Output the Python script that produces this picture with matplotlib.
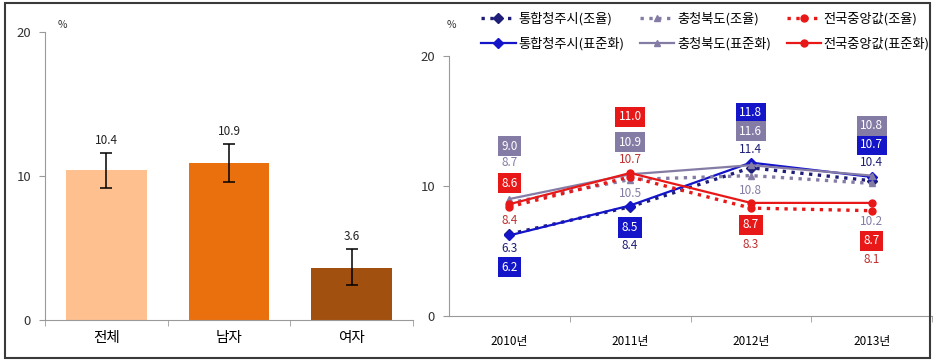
import matplotlib
matplotlib.use('Agg')
import matplotlib.pyplot as plt
from matplotlib.patches import Rectangle

plt.rcParams['font.family'] = ['Noto Sans CJK KR', 'DejaVu Sans']

# left panel data
groups = ['전체', '남자', '여자']
rates = [10.4, 10.9, 3.6]
err_low = [9.2, 9.6, 2.4]
err_high = [11.6, 12.2, 4.9]
bar_colors = ['#FEC08E', '#EA700E', '#A2500F']

# right panel data
years = ['2010년', '2011년', '2012년', '2013년']
cj_crude = [6.3, 8.4, 11.4, 10.4]
cj_std = [6.2, 8.5, 11.8, 10.7]
cb_crude = [8.7, 10.5, 10.8, 10.2]
cb_std = [9.0, 10.9, 11.6, 10.8]
nat_crude = [8.4, 10.7, 8.3, 8.1]
nat_std = [8.6, 11.0, 8.7, 8.7]

# label offsets in pixels
off_cj_crude = [-14, -39, 18, 18]
off_cj_std = [-32, -22, 50, 32]
off_cb_crude = [40, -14, -15, -38]
off_cb_std = [53, 32, 34, 50]
off_nat_crude = [-14, 17, -36, -49]
off_nat_std = [21, 56, -22, -38]

BLUE = '#1414C8'
NAVY = '#1E1E78'
PURPLE = '#857CA6'
RED = '#E81818'
DRED = '#C03030'
AXC = '#9A9A9A'

fig = plt.figure(figsize=(9.35, 3.61), dpi=100)

# ---------- left: bar chart ----------
ax1 = fig.add_axes([45/935, 1-320/361, 368/935, 288/361])
x = list(range(len(groups)))
ax1.bar(x, rates, width=0.66, color=bar_colors, zorder=2)
yerr = [[r - l for r, l in zip(rates, err_low)], [h - r for r, h in zip(rates, err_high)]]
ax1.errorbar(x, rates, yerr=yerr, fmt='none', ecolor='black', elinewidth=1.1,
             capsize=4, capthick=1.1, zorder=3)
for i in x:
    ax1.annotate(f'{rates[i]:.1f}', (i, err_high[i]), xytext=(0, 6),
                 textcoords='offset pixels', ha='center', va='bottom', fontsize=8.5, color='#222222')
ax1.set_xlim(-0.5, 2.5)
ax1.set_ylim(0, 20)
ax1.set_yticks([0, 10, 20])
ax1.set_xticks(x)
ax1.set_xticklabels(groups, fontsize=10.5)
ax1.set_xticks([-0.5, 0.5, 1.5, 2.5], minor=True)
ax1.tick_params(axis='x', which='major', length=0, pad=8)
ax1.tick_params(axis='x', which='minor', length=4, color=AXC, direction='out')
ax1.tick_params(axis='y', length=4, color=AXC, labelsize=9.5, labelcolor='#333333', pad=6)
for s in ['top', 'right']:
    ax1.spines[s].set_visible(False)
for s in ['left', 'bottom']:
    ax1.spines[s].set_color(AXC)
fig.text(62/935, 1-25/361, '%', fontsize=7.5, ha='center', va='center', color='#333333')

# ---------- right: line chart ----------
ax2 = fig.add_axes([449/935, 1-316/361, 483/935, 260/361])
xi = list(range(len(years)))

series = [
    (cj_crude, NAVY, 'D', ':', '통합청주시(조율)'),
    (cj_std, BLUE, 'D', '-', '통합청주시(표준화)'),
    (cb_crude, PURPLE, '^', ':', '충청북도(조율)'),
    (cb_std, PURPLE, '^', '-', '충청북도(표준화)'),
    (nat_crude, RED, 'o', ':', '전국중앙값(조율)'),
    (nat_std, RED, 'o', '-', '전국중앙값(표준화)'),
]
for vals, c, m, ls, lab in series:
    lw = 1.6 if ls == '-' else 2.4
    ax2.plot(xi, vals, color=c, marker=m, markersize=5, linestyle=ls, linewidth=lw,
             label=lab, zorder=3)

def plain_labels(vals, offs, color):
    for i, v in enumerate(vals):
        ax2.annotate(f'{v:.1f}', (i, v), xytext=(0, offs[i]), textcoords='offset pixels',
                     ha='center', va='center', fontsize=8.5, color=color, zorder=5)

def box_labels(vals, offs, color):
    for i, v in enumerate(vals):
        ax2.annotate(f'{v:.1f}', (i, v), xytext=(0, offs[i]), textcoords='offset pixels',
                     ha='center', va='center', fontsize=8.5, color='white', zorder=5,
                     bbox=dict(boxstyle='square,pad=0.3', fc=color, ec='none'))

plain_labels(cj_crude, off_cj_crude, NAVY)
plain_labels(cb_crude, off_cb_crude, PURPLE)
plain_labels(nat_crude, off_nat_crude, DRED)
box_labels(cj_std, off_cj_std, BLUE)
box_labels(cb_std, off_cb_std, PURPLE)
box_labels(nat_std, off_nat_std, RED)

ax2.set_xlim(-0.5, 3.5)
ax2.set_ylim(0, 20)
ax2.set_yticks([0, 10, 20])
ax2.set_xticks(xi)
ax2.set_xticklabels(years, fontsize=8.5)
ax2.set_xticks([0.5, 1.5, 2.5, 3.5], minor=True)
ax2.tick_params(axis='x', which='major', length=0, pad=14)
ax2.tick_params(axis='x', which='minor', length=4, color=AXC, direction='out')
ax2.tick_params(axis='y', length=4, color=AXC, labelsize=9.5, labelcolor='#333333', pad=6)
for s in ['top', 'right']:
    ax2.spines[s].set_visible(False)
for s in ['left', 'bottom']:
    ax2.spines[s].set_color(AXC)
fig.text(451/935, 1-25/361, '%', fontsize=7.5, ha='center', va='center', color='#333333')

leg = fig.legend(loc='upper left', bbox_to_anchor=(476/935, 1-7/361), ncol=3, frameon=False,
                 fontsize=9.5, handlelength=2.6, columnspacing=1.2, handletextpad=0.2,
                 labelspacing=0.85, borderaxespad=0)

# outer frame
fig.patches.append(Rectangle((5/935, 3/361), 925/935, 355/361, transform=fig.transFigure,
                             fill=False, ec='#3A3A3A', lw=1.5))

fig.savefig('out.png', dpi=100)
